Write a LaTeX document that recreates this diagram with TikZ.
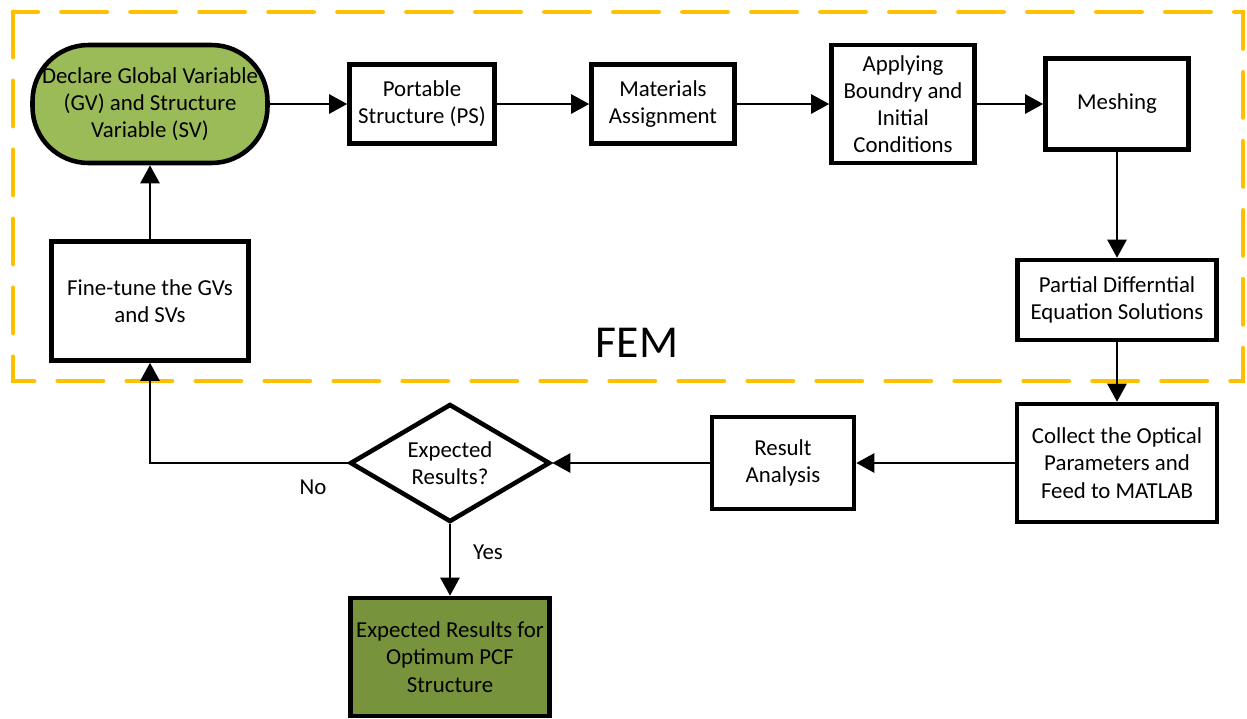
\documentclass[tikz,border=0pt]{standalone}
\usepackage{fontspec}
\setmainfont{Carlito}
\usetikzlibrary{positioning, shapes.geometric, arrows.meta, calc}
\definecolor{gvgreen}{RGB}{155,187,89}
\definecolor{pcfgreen}{RGB}{119,147,60}
\definecolor{femorange}{RGB}{255,192,0}

\begin{document}
\begin{tikzpicture}[
    x=0.02cm, y=-0.02cm,
    font=\fontsize{13}{15.5}\selectfont,
    box/.style={rectangle, draw, line width=2.6pt, align=center, inner sep=1pt},
    startbox/.style={box, fill=gvgreen, rounded corners=1.12cm, minimum width=4.7cm, minimum height=2.36cm},
    endbox/.style={box, fill=pcfgreen, minimum width=3.98cm, minimum height=2.36cm},
    choice/.style={diamond, draw, line width=2.6pt, align=center, inner sep=0pt, aspect=1.7, minimum width=4.0cm, minimum height=2.36cm},
    arrow/.style={-{Triangle[length=0.36cm, width=0.38cm]}, line width=1.4pt},
    femframe/.style={draw=femorange, line width=2.8pt, line cap=round, dash pattern=on 0.9cm off 0.48cm}
]
    \useasboundingbox (0,0) rectangle (1247,718);
    \draw[femframe] (13,12) rectangle (1243,381);
    \node[font=\fontsize{26}{30}\selectfont] (fem) at (637,343) {FEM};

    \node[startbox] (declare) at (150,104) {Declare Global Variable\\(GV) and Structure\\Variable (SV)};
    \node[box, minimum width=2.9cm, minimum height=1.58cm] (portable) at (422,104) {Portable\\Structure (PS)};
    \node[box, minimum width=2.86cm, minimum height=1.58cm] (materials) at (663,104) {Materials\\Assignment};
    \node[box, minimum width=2.86cm, minimum height=2.36cm] (applying) at (903,104) {Applying\\Boundry and\\Initial\\Conditions};
    \node[box, minimum width=2.86cm, minimum height=1.82cm] (meshing) at (1117,104) {Meshing};
    \node[box, minimum width=3.98cm, minimum height=1.6cm] (pde) at (1117,300) {Partial Differntial\\Equation Solutions};
    \node[box, minimum width=4.0cm, minimum height=2.36cm] (collect) at (1117,463) {Collect the Optical\\Parameters and\\Feed to MATLAB};
    \node[box, minimum width=2.84cm, minimum height=1.84cm] (result) at (783,463) {Result\\Analysis};
    \node[choice] (expected) at (450,463) {Expected\\Results?};
    \node[endbox] (optimum) at (450,657) {Expected Results for\\Optimum PCF\\Structure};
    \node[box, minimum width=3.94cm, minimum height=2.38cm] (finetune) at (150,301) {Fine-tune the GVs\\and SVs};

    \node (nolabel) at (313,487) {No};
    \node (yeslabel) at (488,552) {Yes};

    \draw[arrow] (declare) -- (portable);
    \draw[arrow] (portable) -- (materials);
    \draw[arrow] (materials) -- (applying);
    \draw[arrow] (applying) -- (meshing);
    \draw[arrow] (meshing) -- (pde);
    \draw[arrow] (pde) -- (collect);
    \draw[arrow] (collect) -- (result);
    \draw[arrow] (result) -- (expected);
    \draw[arrow] (expected) -- (optimum);
    \draw[arrow] (expected.west) -- (finetune.south |- expected.west) -- (finetune.south);
    \draw[arrow] (finetune) -- (declare);
\end{tikzpicture}
\end{document}
